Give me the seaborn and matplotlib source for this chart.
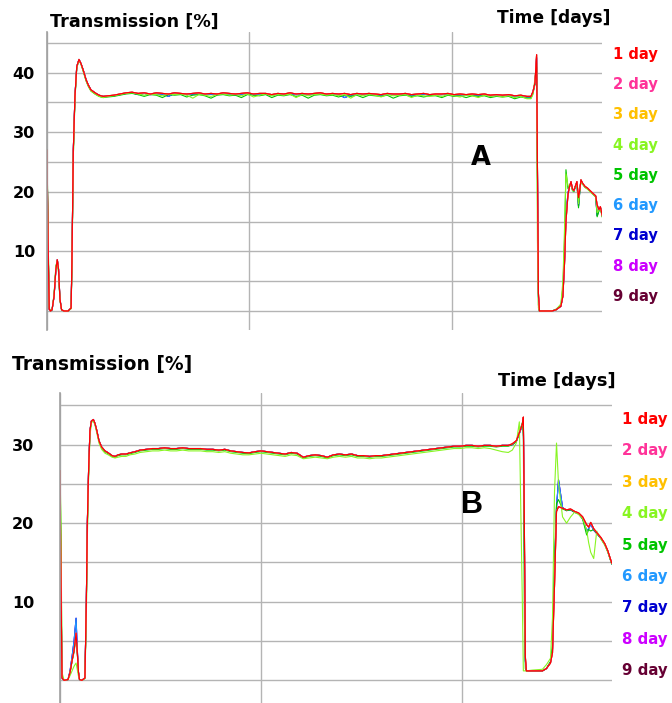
import matplotlib
matplotlib.use("Agg")
import matplotlib.pyplot as plt
import seaborn as sns
import pandas as pd

# ---------------------------------------------------------------- labels
days = ["1 day", "2 day", "3 day", "4 day", "5 day", "6 day", "7 day", "8 day", "9 day"]
day_colors = ["#ff0000", "#ff3399", "#ffc000", "#88f522", "#00c400",
              "#2299ff", "#0000d0", "#cc00ff", "#660033"]

ytick_values_a = [0, 5, 10, 15, 20, 25, 30, 35, 40, 45]
ytick_labels_a = ["", "", "10", "", "20", "", "30", "", "40", ""]
ytick_values_b = [0, 5, 10, 15, 20, 25, 30, 35]
ytick_labels_b = ["", "", "10", "", "20", "", "30", ""]
xtick_values = [0, 1, 2]

# ---------------------------------------------------------------- panel A
time_a_start = [0.000, 0.005, 0.011, 0.017, 0.025, 0.035, 0.044, 0.051, 0.057, 0.064,
                0.072, 0.084, 0.104, 0.119, 0.123, 0.130, 0.138, 0.147, 0.158, 0.168,
                0.179, 0.193, 0.204, 0.217, 0.237, 0.257, 0.277]
time_a_flat = [0.30, 0.33, 0.36, 0.39, 0.42, 0.45, 0.48, 0.51, 0.54, 0.57,
               0.60, 0.63, 0.66, 0.69, 0.72, 0.75, 0.78, 0.81, 0.84, 0.87,
               0.90, 0.93, 0.96, 0.99, 1.02, 1.05, 1.08, 1.11, 1.14, 1.17,
               1.20, 1.23, 1.26, 1.29, 1.32, 1.35, 1.38, 1.41, 1.44, 1.47,
               1.50, 1.53, 1.56, 1.59, 1.62, 1.65, 1.68, 1.71, 1.74, 1.77,
               1.80, 1.83, 1.86, 1.89, 1.92, 1.95, 1.98, 2.01, 2.04, 2.07,
               2.10, 2.13, 2.16, 2.19, 2.22, 2.25, 2.28, 2.31, 2.34, 2.37]
time_a_end = [2.390, 2.400, 2.410, 2.418, 2.422, 2.427, 2.432, 2.459, 2.494, 2.514,
              2.538, 2.548, 2.556, 2.563, 2.573, 2.580, 2.588, 2.595, 2.602, 2.610,
              2.617, 2.625, 2.632, 2.637, 2.646, 2.657, 2.670, 2.691, 2.710, 2.717,
              2.726, 2.733, 2.741, 2.753]

red_a_start = [27.0, 12.0, 0.3, 0.0, 0.2, 2.5, 7.0, 8.6, 7.0, 2.0,
               0.2, 0.0, 0.0, 0.5, 8.0, 27.0, 36.0, 41.0, 42.2, 41.5,
               40.4, 38.8, 37.9, 37.1, 36.6, 36.2, 36.0]
green_a_start = [27.0, 14.0, 0.5, 0.0, 0.2, 2.8, 7.5, 8.5, 6.5, 1.8,
                 0.2, 0.0, 0.0, 0.4, 7.0, 26.0, 35.5, 40.8, 42.1, 41.4,
                 40.2, 38.6, 37.7, 36.9, 36.4, 36.0, 35.8]

red_a_flat = [36.1, 36.2, 36.4, 36.6, 36.7, 36.5, 36.6, 36.4, 36.6, 36.5,
              36.4, 36.6, 36.5, 36.4, 36.5, 36.6, 36.4, 36.5, 36.4, 36.6,
              36.5, 36.4, 36.5, 36.6, 36.4, 36.5, 36.5, 36.3, 36.5, 36.4,
              36.6, 36.4, 36.5, 36.4, 36.5, 36.6, 36.4, 36.5, 36.4, 36.5,
              36.3, 36.5, 36.4, 36.5, 36.4, 36.3, 36.5, 36.4, 36.4, 36.5,
              36.3, 36.4, 36.5, 36.3, 36.4, 36.4, 36.5, 36.3, 36.4, 36.3,
              36.4, 36.3, 36.4, 36.2, 36.3, 36.2, 36.3, 36.1, 36.2, 36.0]
green_a_flat = [35.9, 36.0, 36.2, 36.4, 36.5, 36.3, 36.0, 36.3, 36.2, 35.8,
                36.3, 36.2, 36.3, 35.9, 36.2, 36.3, 36.1, 35.7, 36.2, 36.3,
                36.1, 36.2, 35.8, 36.3, 36.2, 36.1, 36.3, 35.8, 36.2, 36.1,
                36.3, 36.0, 36.2, 35.7, 36.2, 36.3, 36.1, 36.2, 35.9, 36.2,
                36.0, 36.2, 35.8, 36.2, 36.1, 36.0, 36.2, 35.7, 36.1, 36.2,
                36.0, 36.1, 35.9, 36.1, 36.1, 35.8, 36.2, 36.0, 36.1, 35.8,
                36.1, 36.0, 36.1, 35.8, 36.0, 35.9, 36.0, 35.6, 35.9, 35.7]
lime_a_flat = [36.0, 36.1, 36.3, 36.5, 36.6, 36.4, 36.2, 36.4, 36.3, 36.1,
               36.4, 36.3, 36.4, 36.2, 35.7, 36.3, 36.2, 36.0, 36.3, 36.4,
               36.2, 36.3, 36.1, 36.4, 35.9, 36.2, 36.4, 36.1, 36.3, 36.2,
               36.4, 35.8, 36.3, 36.1, 36.3, 36.4, 36.2, 36.3, 36.1, 36.3,
               35.7, 36.3, 36.1, 36.3, 36.2, 35.9, 36.3, 36.1, 36.2, 36.3,
               35.8, 36.2, 36.1, 36.0, 36.2, 36.0, 36.3, 36.1, 35.9, 36.2,
               36.1, 35.8, 36.2, 36.0, 36.1, 35.9, 36.1, 35.8, 36.0, 35.6]
blue_a_flat = [36.0, 36.1, 36.3, 36.5, 36.6, 36.3, 36.5, 36.3, 36.4, 36.4,
               36.0, 36.5, 36.4, 36.3, 36.4, 36.5, 36.3, 36.4, 36.3, 36.5,
               36.4, 36.2, 36.4, 36.5, 36.3, 36.4, 36.4, 36.2, 36.4, 36.3,
               36.5, 36.3, 36.4, 36.3, 36.4, 36.5, 36.3, 36.4, 36.3, 35.8,
               36.2, 36.4, 36.3, 36.4, 36.3, 36.2, 36.4, 36.3, 36.3, 36.4,
               36.2, 36.3, 36.4, 36.2, 36.3, 36.3, 36.4, 36.2, 36.3, 36.2,
               36.3, 36.2, 36.3, 36.1, 36.2, 36.1, 36.2, 36.0, 36.1, 35.9]

red_a_end = [36.0, 36.8, 38.3, 43.0, 25.0, 3.0, 0.0, 0.0, 0.0, 0.2,
             0.8, 2.5, 8.0, 15.0, 19.5, 20.8, 21.7, 20.5, 20.2, 21.0,
             21.7, 19.0, 20.5, 22.0, 21.4, 20.9, 20.6, 19.9, 19.3, 17.8,
             17.0, 17.5, 16.2, 14.7]
green_a_end = [35.7, 36.5, 38.0, 40.9, 20.0, 1.0, 0.0, 0.0, 0.0, 0.3,
               1.0, 4.0, 12.0, 23.7, 20.5, 21.0, 21.5, 20.2, 20.0, 21.0,
               21.5, 17.3, 20.3, 21.8, 21.3, 20.8, 20.5, 19.8, 19.2, 15.8,
               16.8, 17.3, 16.0, 14.6]
lime_a_end = [35.6, 36.3, 39.0, 41.5, 12.0, 0.5, 0.0, 0.0, 0.0, 0.2,
              1.2, 5.0, 14.0, 23.0, 21.0, 20.9, 21.4, 20.3, 20.1, 20.9,
              21.4, 18.0, 20.4, 21.7, 21.2, 20.7, 20.4, 19.7, 19.1, 16.5,
              16.9, 17.2, 15.9, 14.6]
blue_a_end = [35.9, 36.7, 38.2, 42.5, 24.0, 2.5, 0.0, 0.0, 0.0, 0.2,
              0.8, 2.6, 8.5, 16.0, 19.8, 20.8, 21.6, 20.4, 20.1, 20.9,
              21.6, 17.6, 20.4, 21.9, 21.3, 20.8, 20.5, 19.8, 19.2, 16.0,
              16.9, 17.4, 16.1, 14.7]

# ---------------------------------------------------------------- panel B
time_b_start = [0.000, 0.005, 0.010, 0.020, 0.040, 0.050, 0.060, 0.070, 0.080, 0.085,
                0.092, 0.097, 0.109, 0.124, 0.131, 0.136, 0.142, 0.149, 0.156, 0.166,
                0.174, 0.183, 0.194, 0.207, 0.224, 0.240, 0.259, 0.274, 0.289, 0.307,
                0.328, 0.348, 0.373, 0.398]
time_b_flat = [0.43, 0.46, 0.49, 0.52, 0.55, 0.58, 0.61, 0.64, 0.67, 0.70,
               0.73, 0.76, 0.79, 0.82, 0.85, 0.88, 0.91, 0.94, 0.97, 1.00,
               1.03, 1.06, 1.09, 1.12, 1.15, 1.18, 1.21, 1.24, 1.27, 1.30,
               1.33, 1.36, 1.39, 1.42, 1.45, 1.48, 1.51, 1.54, 1.57, 1.60,
               1.63, 1.66, 1.69, 1.72, 1.75, 1.78, 1.81, 1.84, 1.87, 1.90,
               1.93, 1.96, 1.99, 2.02, 2.05, 2.08, 2.11, 2.14, 2.17, 2.20, 2.23]
time_b_end = [2.250, 2.270, 2.285, 2.300, 2.305, 2.310, 2.315, 2.320, 2.350, 2.400,
              2.420, 2.440, 2.450, 2.460, 2.470, 2.480, 2.500, 2.520, 2.540, 2.560,
              2.580, 2.600, 2.620, 2.630, 2.640, 2.655, 2.670, 2.690, 2.710, 2.725,
              2.745]

red_b_start = [26.7, 12.0, 0.3, 0.0, 0.1, 1.0, 2.5, 3.8, 6.0, 4.0,
               1.0, 0.1, 0.0, 0.3, 10.0, 20.0, 26.5, 31.8, 33.0, 33.2,
               32.7, 31.8, 30.5, 29.7, 29.2, 28.95, 28.6, 28.5, 28.7, 28.8,
               28.8, 28.95, 29.1, 29.3]
blue_b_start = [26.7, 12.0, 0.3, 0.0, 0.1, 1.2, 3.0, 5.0, 7.9, 4.5,
                1.0, 0.1, 0.0, 0.3, 10.0, 20.0, 26.5, 31.8, 33.0, 33.2,
                32.7, 31.8, 30.5, 29.7, 29.2, 28.95, 28.6, 28.5, 28.7, 28.8,
                28.8, 28.95, 29.1, 29.3]
green_b_start = [26.7, 17.5, 0.6, 0.0, 0.1, 1.0, 2.4, 3.6, 5.5, 3.8,
                 1.0, 0.1, 0.0, 0.3, 9.0, 19.0, 26.0, 31.5, 32.9, 33.1,
                 32.6, 31.7, 30.4, 29.6, 29.1, 28.85, 28.5, 28.4, 28.6, 28.7,
                 28.7, 28.85, 29.0, 29.2]
lime_b_start = [26.7, 20.0, 1.0, 0.0, 0.1, 0.6, 1.2, 1.8, 2.2, 1.5,
                0.5, 0.1, 0.0, 0.2, 8.0, 18.0, 25.5, 31.0, 32.8, 33.0,
                32.5, 31.5, 30.2, 29.4, 28.9, 28.7, 28.4, 28.3, 28.4, 28.5,
                28.5, 28.7, 28.8, 29.0]

red_b_flat = [29.4, 29.5, 29.5, 29.6, 29.5, 29.5, 29.6, 29.5, 29.5, 29.5,
              29.4, 29.4, 29.3, 29.4, 29.2, 29.1, 29.0, 28.95, 29.1, 29.2,
              29.1, 29.0, 28.9, 28.8, 29.0, 28.9, 28.4, 28.6, 28.7, 28.6,
              28.4, 28.7, 28.8, 28.7, 28.8, 28.6, 28.6, 28.5, 28.6, 28.6,
              28.7, 28.8, 28.9, 29.0, 29.1, 29.2, 29.3, 29.4, 29.5, 29.6,
              29.7, 29.8, 29.8, 29.9, 29.9, 29.8, 29.9, 29.9, 29.8, 29.9, 29.9]
green_b_flat = [29.3, 29.4, 29.4, 29.5, 29.4, 29.4, 29.5, 29.4, 29.4, 29.4,
                29.3, 29.3, 29.2, 29.3, 29.1, 29.0, 28.9, 28.85, 29.0, 29.1,
                29.0, 28.9, 28.8, 28.7, 28.9, 28.8, 28.3, 28.5, 28.6, 28.5,
                28.3, 28.6, 28.7, 28.6, 28.7, 28.5, 28.5, 28.4, 28.5, 28.5,
                28.6, 28.7, 28.8, 28.9, 29.0, 29.1, 29.2, 29.3, 29.4, 29.5,
                29.6, 29.7, 29.7, 29.8, 29.8, 29.7, 29.8, 29.8, 29.7, 29.8, 29.8]
lime_b_flat = [29.1, 29.2, 29.2, 29.3, 29.2, 29.2, 29.3, 29.2, 29.2, 29.2,
               29.1, 29.1, 29.0, 29.1, 28.9, 28.8, 28.7, 28.7, 28.8, 28.9,
               28.8, 28.7, 28.6, 28.5, 28.7, 28.6, 28.2, 28.3, 28.4, 28.3,
               28.2, 28.4, 28.5, 28.4, 28.5, 28.3, 28.3, 28.2, 28.3, 28.3,
               28.4, 28.5, 28.6, 28.7, 28.8, 28.9, 29.0, 29.1, 29.2, 29.3,
               29.4, 29.5, 29.5, 29.6, 29.6, 29.5, 29.6, 29.5, 29.3, 29.1, 29.0]

red_b_end = [30.1, 30.5, 31.5, 32.6, 33.5, 20.0, 3.0, 1.2, 1.2, 1.2,
             1.5, 2.2, 3.5, 12.0, 21.5, 22.1, 21.9, 21.7, 21.8, 21.5,
             21.3, 20.8, 19.8, 19.5, 20.1, 19.3, 18.8, 18.2, 17.4, 16.5,
             14.9]
blue_b_end = [30.0, 30.4, 31.4, 32.5, 33.3, 18.0, 2.5, 1.2, 1.2, 1.2,
              1.5, 2.3, 4.0, 14.0, 22.0, 25.5, 22.0, 21.6, 21.7, 21.4,
              21.2, 20.6, 19.0, 19.3, 19.9, 19.1, 18.7, 18.1, 17.3, 16.4,
              14.8]
green_b_end = [30.0, 30.4, 31.6, 32.8, 31.0, 8.0, 1.5, 1.2, 1.2, 1.2,
               1.5, 2.4, 4.5, 15.0, 22.5, 23.0, 21.8, 21.6, 21.7, 21.4,
               21.2, 20.5, 18.5, 19.2, 19.0, 19.2, 18.7, 18.1, 17.3, 16.4,
               14.8]
lime_b_end = [29.3, 30.2, 32.9, 10.0, 1.2, 1.2, 1.2, 1.2, 1.3, 1.4,
              2.0, 2.8, 8.0, 24.0, 30.2, 25.0, 20.8, 20.0, 20.8, 21.4,
              21.1, 20.6, 19.1, 17.5, 16.3, 15.5, 19.0, 18.0, 17.2, 16.3,
              14.8]

# ---------------------------------------------------------------- tables
time_a = time_a_start + time_a_flat + time_a_end
time_b = time_b_start + time_b_flat + time_b_end

red_a = red_a_start + red_a_flat + red_a_end
green_a = green_a_start + green_a_flat + green_a_end
lime_a = green_a_start + lime_a_flat + lime_a_end
blue_a = red_a_start + blue_a_flat + blue_a_end

red_b = red_b_start + red_b_flat + red_b_end
green_b = green_b_start + green_b_flat + green_b_end
lime_b = lime_b_start + lime_b_flat + lime_b_end
blue_b = blue_b_start + red_b_flat + blue_b_end

series_a = {"1 day": red_a, "2 day": red_a, "3 day": red_a, "4 day": lime_a,
            "5 day": green_a, "6 day": blue_a, "7 day": blue_a, "8 day": blue_a,
            "9 day": red_a}
series_b = {"1 day": red_b, "2 day": red_b, "3 day": red_b, "4 day": lime_b,
            "5 day": green_b, "6 day": blue_b, "7 day": blue_b, "8 day": blue_b,
            "9 day": red_b}


def long_table(times, series):
    frames = [pd.DataFrame({"time": times, "transmission": vals, "day": d})
              for d, vals in series.items()]
    return pd.concat(frames, ignore_index=True)


df_a = long_table(time_a, series_a)
df_b = long_table(time_b, series_b)

# ---------------------------------------------------------------- figure
sns.set_style("white")
plt.rcParams["font.family"] = ["DejaVu Sans"]
plt.rcParams["text.color"] = "black"
plt.rcParams["ytick.color"] = "black"
plt.rcParams["ytick.labelcolor"] = "black"

W, H = 672, 703
fig = plt.figure(figsize=(W / 100, H / 100), dpi=100)
ax_a = fig.add_axes([47 / W, 1 - 330 / H, 555 / W, 298 / H])
ax_b = fig.add_axes([60 / W, 0, 552 / W, 310 / H])

palette = dict(zip(days, day_colors))
grid_color = "#b4b4b4"


def style_panel(ax, df, xmax, ylim, yticks, ylabels, pad):
    sns.lineplot(data=df, x="time", y="transmission", hue="day",
                 hue_order=days[::-1], palette=palette, estimator=None,
                 sort=False, legend=False, linewidth=0.8, ax=ax)
    ax.set_xlim(0, xmax)
    ax.set_ylim(*ylim)
    ax.set_xlabel("")
    ax.set_ylabel("")
    ax.set_yticks(yticks, ylabels, fontweight="bold", fontsize=11.5, color="black")
    ax.set_xticks(xtick_values, [""] * len(xtick_values))
    ax.tick_params(axis="both", length=0)
    ax.tick_params(axis="y", pad=pad)
    ax.grid(True, color=grid_color, linewidth=1.0)
    ax.set_axisbelow(True)
    for side in ("top", "right", "bottom"):
        ax.spines[side].set_visible(False)
    ax.spines["left"].set_color("#a0a0a0")
    ax.spines["left"].set_linewidth(1.2)


style_panel(ax_a, df_a, 2.741, (-3.19, 46.8), ytick_values_a, ytick_labels_a, 8.6)
style_panel(ax_b, df_b, 2.746, (-2.89, 36.57), ytick_values_b, ytick_labels_b, 18.7)


def ftext(x, y, s, **kw):
    fig.text(x / W, 1 - y / H, s, **kw)


# axis captions
ftext(50, 26.7, "Transmission [%]", fontsize=12.6, fontweight="bold", va="baseline")
ftext(497, 23.3, "Time [days]", fontsize=12.3, fontweight="bold", va="baseline")
ftext(12, 370, "Transmission [%]", fontsize=13.4, fontweight="bold", va="baseline")
ftext(498, 386, "Time [days]", fontsize=12.8, fontweight="bold", va="baseline")

# panel letters
ftext(481, 165, "A", fontsize=18.5, fontweight="bold", ha="center", va="baseline")
ftext(472, 512.7, "B", fontsize=22, fontweight="bold", ha="center", va="baseline",
      family="Liberation Sans")

# day keys
for i, (d, c) in enumerate(zip(days, day_colors)):
    ftext(612.7, 59 + 30.25 * i, d, color=c, fontsize=10.6, fontweight="bold",
          va="baseline")
    ftext(622, 424 + 31.4 * i, d, color=c, fontsize=10.8, fontweight="bold",
          va="baseline")

fig.savefig("out.png", dpi=100)
